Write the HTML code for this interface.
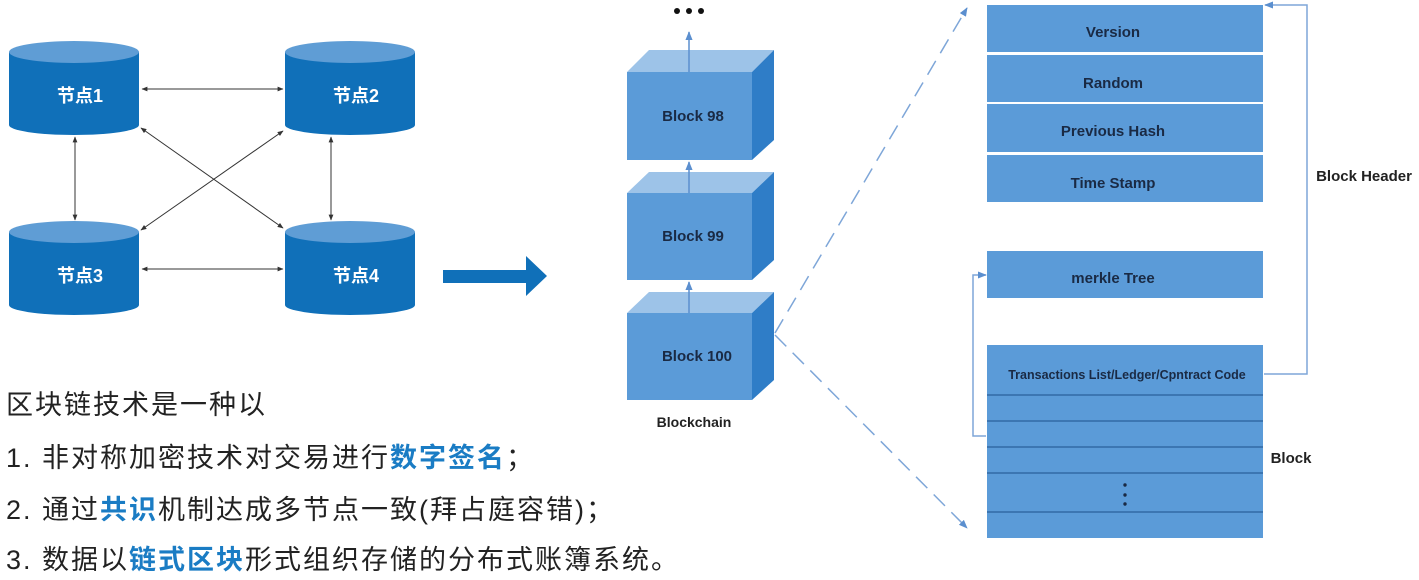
<!DOCTYPE html>
<html><head><meta charset="utf-8"><style>
html,body{margin:0;padding:0;background:#fff;}
svg{display:block}
</style></head><body>
<svg width="1419" height="580" viewBox="0 0 1419 580" xmlns="http://www.w3.org/2000/svg">
<defs>
<marker id="ab" viewBox="0 0 10 10" refX="9" refY="5" markerWidth="6" markerHeight="6" orient="auto-start-reverse"><path d="M0,1 L10,5 L0,9 z" fill="#333"/></marker>
<marker id="ablue" viewBox="0 0 10 10" refX="9" refY="5" markerWidth="6" markerHeight="6" orient="auto-start-reverse"><path d="M0,1 L10,5 L0,9 z" fill="#5b8fcf"/></marker>
</defs>
<g font-size="18" fill="#fff" text-anchor="middle">
 <path d="M9,52 L9,125 A65,10 0 0 0 139,125 L139,52 Z" fill="#1070b9"/><ellipse cx="74" cy="52" rx="65" ry="11" fill="#5f9dd5"/>
 <path d="M285,52 L285,125 A65,10 0 0 0 415,125 L415,52 Z" fill="#1070b9"/><ellipse cx="350" cy="52" rx="65" ry="11" fill="#5f9dd5"/>
 <path d="M9,232 L9,305 A65,10 0 0 0 139,305 L139,232 Z" fill="#1070b9"/><ellipse cx="74" cy="232" rx="65" ry="11" fill="#5f9dd5"/>
 <path d="M285,232 L285,305 A65,10 0 0 0 415,305 L415,232 Z" fill="#1070b9"/><ellipse cx="350" cy="232" rx="65" ry="11" fill="#5f9dd5"/>
 <g font-family="Liberation Sans, Noto Sans CJK SC, sans-serif" font-weight="bold">
 <text x="80" y="102">节点1</text>
 <text x="356" y="102">节点2</text>
 <text x="80" y="282">节点3</text>
 <text x="356" y="282">节点4</text>
 </g>
</g>
<g stroke="#333" stroke-width="1" fill="none" marker-start="url(#ab)" marker-end="url(#ab)">
 <line x1="142" y1="89" x2="283" y2="89"/>
 <line x1="142" y1="269" x2="283" y2="269"/>
 <line x1="75" y1="137" x2="75" y2="220"/>
 <line x1="331" y1="137" x2="331" y2="220"/>
 <line x1="141" y1="128" x2="283" y2="228"/>
 <line x1="283" y1="131" x2="141" y2="230"/>
</g>
<polygon points="443,270 526,270 526,256 547,276 526,296 526,283 443,283" fill="#1070b9"/>
<g font-family="Liberation Sans, sans-serif" font-weight="bold" font-size="15" fill="#1a2a44" text-anchor="middle">
 <polygon points="627,72 649,50 774,50 752,72" fill="#9dc3e8"/><polygon points="752,72 774,50 774,140 752,160" fill="#2f7dc7"/><rect x="627" y="72" width="125" height="88" fill="#5b9bd8"/>
 <text x="693" y="121">Block 98</text>
 <polygon points="627,193 649,172 774,172 752,193" fill="#9dc3e8"/><polygon points="752,193 774,172 774,260 752,280" fill="#2f7dc7"/><rect x="627" y="193" width="125" height="87" fill="#5b9bd8"/>
 <text x="693" y="241">Block 99</text>
 <polygon points="627,313 649,292 774,292 752,313" fill="#9dc3e8"/><polygon points="752,313 774,292 774,380 752,400" fill="#2f7dc7"/><rect x="627" y="313" width="125" height="87" fill="#5b9bd8"/>
 <text x="697" y="361">Block 100</text>
 <text x="694" y="427" font-size="14" fill="#222">Blockchain</text>
</g>
<g stroke="#5b8fcf" stroke-width="1.5" fill="none" marker-end="url(#ablue)">
 <line x1="689" y1="72" x2="689" y2="32"/>
 <line x1="689" y1="193" x2="689" y2="162"/>
 <line x1="689" y1="313" x2="689" y2="282"/>
</g>
<g fill="#111"><circle cx="677" cy="11" r="3"/><circle cx="689" cy="11" r="3"/><circle cx="701" cy="11" r="3"/></g>
<g stroke="#7ea6d8" stroke-width="1.5" fill="none" stroke-dasharray="16,9" marker-end="url(#ablue)">
 <line x1="775" y1="333" x2="967" y2="8"/>
 <line x1="775" y1="335" x2="967" y2="528"/>
</g>
<g font-family="Liberation Sans, sans-serif" font-weight="bold" font-size="15" fill="#1a2a44" text-anchor="middle">
 <rect x="987" y="5" width="276" height="47" fill="#5b9bd8"/>
 <rect x="987" y="55" width="276" height="47" fill="#5b9bd8"/>
 <rect x="987" y="104" width="276" height="48" fill="#5b9bd8"/>
 <rect x="987" y="155" width="276" height="47" fill="#5b9bd8"/>
 <text x="1113" y="37">Version</text>
 <text x="1113" y="88">Random</text>
 <text x="1113" y="136">Previous Hash</text>
 <text x="1113" y="188">Time Stamp</text>
 <rect x="987" y="251" width="276" height="47" fill="#5b9bd8"/>
 <text x="1113" y="283">merkle Tree</text>
 <rect x="987" y="345" width="276" height="193" fill="#5b9bd8"/>
 <g stroke="#2a5f9a" stroke-width="1.2"><line x1="987" y1="395" x2="1263" y2="395"/><line x1="987" y1="421" x2="1263" y2="421"/><line x1="987" y1="447" x2="1263" y2="447"/><line x1="987" y1="473" x2="1263" y2="473"/><line x1="987" y1="512" x2="1263" y2="512"/></g>
 <text x="1127" y="379" font-size="12.5">Transactions List/Ledger/Cpntract Code</text>
 <g fill="#1a2a44"><circle cx="1125" cy="485" r="1.7"/><circle cx="1125" cy="495" r="1.7"/><circle cx="1125" cy="504" r="1.7"/></g>
 <text x="1364" y="181" font-size="15" fill="#222">Block Header</text>
 <text x="1291" y="463" font-size="15" fill="#222">Block</text>
</g>
<g stroke="#7ea6d8" stroke-width="1.5" fill="none" marker-end="url(#ablue)">
 <polyline points="1264,374 1307,374 1307,5 1265,5"/>
 <polyline points="986,436 973,436 973,275 986,275"/>
</g>
<g font-size="27" fill="#222" font-family="Liberation Sans, Noto Sans CJK SC, sans-serif" letter-spacing="2">
 <text x="6" y="414">区块链技术是一种以</text>
 <text x="6" y="467">1. 非对称加密技术对交易进行<tspan fill="#1a7cc4" font-weight="bold">数字签名</tspan>；</text>
 <text x="6" y="519">2. 通过<tspan fill="#1a7cc4" font-weight="bold">共识</tspan>机制达成多节点一致(拜占庭容错)；</text>
 <text x="6" y="569">3. 数据以<tspan fill="#1a7cc4" font-weight="bold">链式区块</tspan>形式组织存储的分布式账簿系统。</text>
</g>
</svg>
</body></html>
